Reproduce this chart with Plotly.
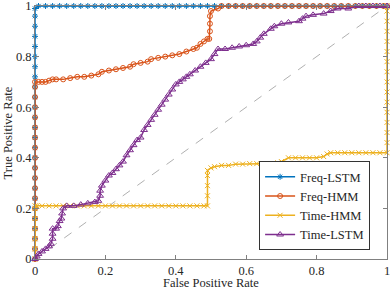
import plotly.graph_objects as go

# Freq-LSTM
freq_lstm_fpr = [0, 0, 0, 0, 0, 0, 0, 0, 0, 0, 0, 0, 0, 0, 0, 0, 0, 0, 0, 0, 0, 0, 0, 0, 0, 0,
                 0.01, 0.03, 0.05, 0.07, 0.09, 0.11, 0.13, 0.15, 0.17, 0.19, 0.21, 0.23, 0.25, 0.27, 0.29,
                 0.31, 0.33, 0.35, 0.37, 0.39, 0.41, 0.43, 0.45, 0.47, 0.49, 0.51, 0.53, 0.55, 0.57, 0.59,
                 0.61, 0.63, 0.65, 0.67, 0.69, 0.71, 0.73, 0.75, 0.77, 0.79, 0.81, 0.83, 0.85, 0.87, 0.89,
                 0.91, 0.93, 0.95, 0.97, 0.99, 1.0]
freq_lstm_tpr = [0, 0.04, 0.08, 0.12, 0.16, 0.2, 0.24, 0.28, 0.32, 0.36, 0.4, 0.44, 0.48, 0.52, 0.56,
                 0.6, 0.64, 0.68, 0.72, 0.76, 0.8, 0.84, 0.88, 0.92, 0.96, 0.99,
                 1, 1, 1, 1, 1, 1, 1, 1, 1, 1, 1, 1, 1, 1, 1, 1, 1, 1, 1, 1, 1, 1, 1, 1, 1,
                 1, 1, 1, 1, 1, 1, 1, 1, 1, 1, 1, 1, 1, 1, 1, 1, 1, 1, 1, 1, 1, 1, 1, 1, 1, 1]

# Freq-HMM
freq_hmm_fpr = [0, 0, 0, 0, 0, 0, 0, 0, 0, 0, 0, 0, 0, 0, 0, 0, 0, 0, 0,
                0.01, 0.02, 0.03, 0.04, 0.05, 0.06, 0.08, 0.10, 0.12, 0.14, 0.16, 0.18, 0.19, 0.21,
                0.23, 0.25, 0.27, 0.28, 0.30, 0.32, 0.33, 0.35, 0.37, 0.39, 0.41, 0.43, 0.45, 0.46,
                0.47, 0.48, 0.49, 0.495, 0.497, 0.497, 0.497, 0.50, 0.52, 0.53,
                0.55, 0.57, 0.59, 0.61, 0.63, 0.65, 0.67, 0.69, 0.71, 0.73, 0.75, 0.77, 0.79, 0.81,
                0.83, 0.85, 0.87, 0.89, 0.91, 0.93, 0.95, 0.97, 0.99, 1.0]
freq_hmm_tpr = [0, 0.04, 0.08, 0.12, 0.16, 0.2, 0.24, 0.28, 0.32, 0.36, 0.4, 0.44, 0.48, 0.52, 0.56,
                0.6, 0.64, 0.68, 0.70,
                0.70, 0.70, 0.70, 0.705, 0.71, 0.71, 0.71, 0.715, 0.72, 0.72, 0.725, 0.73, 0.74, 0.745,
                0.75, 0.755, 0.76, 0.77, 0.775, 0.78, 0.79, 0.795, 0.80, 0.805, 0.81, 0.82, 0.83, 0.835,
                0.85, 0.86, 0.87, 0.87, 0.90, 0.93, 0.96, 0.98, 0.99, 1.0,
                1, 1, 1, 1, 1, 1, 1, 1, 1, 1, 1, 1, 1, 1, 1, 1, 1, 1, 1, 1, 1, 1, 1, 1]

# Time-HMM
time_hmm_fpr = [0, 0, 0, 0, 0, 0, 0,
                0.005, 0.02, 0.04, 0.06, 0.08, 0.10, 0.12, 0.14, 0.16, 0.18, 0.20, 0.22, 0.24, 0.26,
                0.28, 0.30, 0.32, 0.34, 0.36, 0.38, 0.40, 0.42, 0.44, 0.46, 0.48, 0.49,
                0.49, 0.49, 0.49, 0.49,
                0.50, 0.51, 0.53, 0.55, 0.57, 0.59, 0.61, 0.63, 0.65, 0.67, 0.69, 0.70, 0.72, 0.74,
                0.76, 0.78, 0.80, 0.82, 0.83, 0.84, 0.86, 0.88, 0.90, 0.92, 0.94, 0.96, 0.98, 1.0,
                1.0, 1.0, 1.0, 1.0, 1.0, 1.0, 1.0, 1.0, 1.0, 1.0, 1.0, 1.0, 1.0, 1.0, 1.0]
time_hmm_tpr = [0, 0.04, 0.08, 0.12, 0.16, 0.2, 0.21,
                0.21, 0.21, 0.21, 0.21, 0.21, 0.21, 0.21, 0.21, 0.21, 0.21, 0.21, 0.21, 0.21, 0.21,
                0.21, 0.21, 0.21, 0.21, 0.21, 0.21, 0.21, 0.21, 0.21, 0.21, 0.21, 0.21,
                0.25, 0.29, 0.33, 0.35,
                0.36, 0.365, 0.37, 0.37, 0.375, 0.375, 0.377, 0.377, 0.377, 0.377, 0.38, 0.385, 0.40, 0.40,
                0.40, 0.40, 0.40, 0.405, 0.415, 0.42, 0.42, 0.42, 0.42, 0.42, 0.42, 0.42, 0.42, 0.42,
                0.46, 0.50, 0.54, 0.58, 0.62, 0.66, 0.70, 0.74, 0.78, 0.82, 0.86, 0.90, 0.94, 0.98, 1.0]

# Time-LSTM
time_lstm_fpr = [0, 0.005, 0.01, 0.02, 0.03, 0.04, 0.045, 0.05, 0.05, 0.05, 0.06, 0.065, 0.07, 0.075,
                 0.077, 0.08, 0.09, 0.11, 0.13, 0.15, 0.17, 0.18, 0.185, 0.185, 0.19, 0.20, 0.21, 0.22,
                 0.23, 0.24, 0.25, 0.26, 0.27, 0.28, 0.29, 0.30, 0.31, 0.32, 0.33, 0.34, 0.35, 0.36,
                 0.37, 0.38, 0.39, 0.40, 0.41, 0.42, 0.43, 0.44, 0.455, 0.47, 0.485, 0.50, 0.51, 0.52,
                 0.54, 0.56, 0.58, 0.60, 0.62, 0.63, 0.64, 0.65, 0.67, 0.68, 0.70, 0.72, 0.75, 0.76,
                 0.77, 0.79, 0.82, 0.84, 0.86, 0.89, 0.92, 0.94, 0.96, 0.98, 1.0]
time_lstm_tpr = [0, 0.01, 0.02, 0.03, 0.04, 0.05, 0.06, 0.08, 0.10, 0.12, 0.12, 0.13, 0.15, 0.16,
                 0.18, 0.20, 0.21, 0.21, 0.215, 0.22, 0.225, 0.23, 0.25, 0.27, 0.29, 0.31, 0.33, 0.34,
                 0.355, 0.37, 0.385, 0.41, 0.43, 0.45, 0.47, 0.48, 0.51, 0.53, 0.55, 0.57, 0.59, 0.61,
                 0.63, 0.65, 0.67, 0.69, 0.70, 0.71, 0.72, 0.73, 0.745, 0.76, 0.775, 0.79, 0.81, 0.83,
                 0.83, 0.835, 0.84, 0.845, 0.85, 0.86, 0.875, 0.89, 0.91, 0.92, 0.93, 0.935, 0.94, 0.95,
                 0.96, 0.965, 0.97, 0.98, 0.99, 0.99, 1.0, 1.0, 1.0, 1.0, 1.0]

chance = [0, 1]
tick_vals = [0, 0.2, 0.4, 0.6, 0.8, 1]
tick_text = ["0", "0.2", "0.4", "0.6", "0.8", "1"]
x_title = "False Positive Rate"
y_title = "True Positive Rate"

FONT = "Liberation Serif, Times New Roman, Times, serif"
TXT = "#262626"
fig = go.Figure()
fig.add_trace(go.Scatter(x=chance, y=chance, mode="lines", showlegend=False,
                         line=dict(color="#b0b0b0", width=1, dash="dash"), hoverinfo="skip"))

series = [
    ("Freq-LSTM", freq_lstm_fpr, freq_lstm_tpr, "#0072BD", "asterisk-open", 5),
    ("Freq-HMM", freq_hmm_fpr, freq_hmm_tpr, "#D95319", "circle-open", 5),
    ("Time-HMM", time_hmm_fpr, time_hmm_tpr, "#EDB120", "x-thin-open", 5),
    ("Time-LSTM", time_lstm_fpr, time_lstm_tpr, "#7E2F8E", "triangle-up-open", 6),
]
for name, xs, ys, col, sym, sz in series:
    fig.add_trace(go.Scatter(
        x=xs, y=ys, mode="lines+markers", name=name, cliponaxis=False,
        line=dict(color=col, width=1.5),
        marker=dict(symbol=sym, size=sz, color=col, line=dict(color=col, width=1)),
    ))

axis_common = dict(
    range=[0, 1], showgrid=False, zeroline=False, showline=True, linecolor="#808080",
    linewidth=1, mirror="ticks", ticks="inside", ticklen=4, tickcolor="#808080",
    tickfont=dict(family=FONT, size=12.5, color=TXT), automargin=False,
    tickvals=tick_vals, ticktext=tick_text, ticklabeloverflow="allow",
)
fig.update_xaxes(**axis_common)
fig.update_yaxes(**axis_common)

# axis titles as annotations for exact placement
fig.add_annotation(text=x_title, xref="paper", yref="paper", x=0.5, y=-0.095,
                   xanchor="center", yanchor="middle", showarrow=False,
                   font=dict(family=FONT, size=12.5, color=TXT))
fig.add_annotation(text=y_title, xref="paper", yref="paper", x=-0.077, y=0.5,
                   xanchor="center", yanchor="middle", showarrow=False, textangle=-90,
                   font=dict(family=FONT, size=12.5, color=TXT))

fig.update_layout(
    width=390, height=289,
    margin=dict(l=35, r=3, t=6, b=30, autoexpand=False),
    plot_bgcolor="white", paper_bgcolor="white",
    font=dict(family=FONT, size=12.5, color=TXT),
    legend=dict(x=0.952, y=0.035, xanchor="right", yanchor="bottom",
                bgcolor="white", bordercolor="#333333", borderwidth=1,
                font=dict(family=FONT, size=12.5, color=TXT),
                tracegroupgap=0, itemwidth=30),
)

fig.write_html("out.html", config={"displayModeBar": False},
               post_script="document.body.style.margin='0';document.body.style.overflow='hidden';")
